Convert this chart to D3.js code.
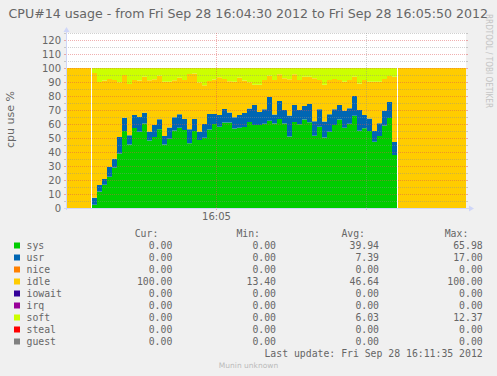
<!DOCTYPE html>
<html>
<head>
<meta charset="utf-8">
<script src="https://cdn.jsdelivr.net/npm/d3@7"></script>
<style>
  body { margin: 0; background: #F0F0F0; }
  svg { display: block; }
  text { font-family: "DejaVu Sans", sans-serif; fill: #666; }
  .mono { font-family: "DejaVu Sans Mono", monospace; font-size: 9.8px; }
</style>
</head>
<body>
<svg id="chart" width="497" height="376"></svg>
<script>
// series, in munin draw order
const seriesNames = ["sys", "usr", "nice", "idle", "iowait", "irq", "soft", "steal", "guest"];
const seriesColors = ["#00CC00", "#0066B3", "#FF8000", "#FFCC00", "#330099", "#990099", "#CCFF00", "#FF0000", "#808080"];

// one sample per second, starting 16:04:35.2 (idle = 100 - sys - usr - soft)
const sysValues = [2.3, 11.7, 16.6, 22.4, 28.9, 38.9, 55.0, 45.3, 57.2, 54.5,
  60.3, 48.3, 50.7, 56.3, 45.3, 49.4, 55.4, 57.4, 55.7, 46.2,
  55.0, 48.6, 50.2, 56.0, 60.0, 58.0, 61.0, 61.0, 56.8, 57.4,
  57.8, 61.5, 59.3, 59.3, 60.2, 62.3, 60.3, 63.5, 60.3, 51.0,
  61.5, 59.8, 63.3, 61.3, 51.6, 58.0, 50.4, 54.5, 59.2, 63.3,
  57.4, 60.2, 65.98, 55.1, 56.9, 55.0, 47.4, 51.5, 59.0, 64.3, 37.9];
const usrValues = [5.1, 4.7, 4.1, 6.9, 6.2, 11.9, 9.5, 6.7, 9.2, 10.5,
  7.7, 6.2, 8.6, 7.1, 6.1, 8.1, 9.4, 9.6, 7.8, 10.0,
  8.5, 5.9, 9.8, 11.1, 7.1, 8.4, 9.7, 7.3, 8.1, 9.0,
  10.0, 9.5, 14.3, 9.2, 10.3, 17.0, 6.5, 13.0, 9.7, 15.0,
  12.1, 10.2, 9.6, 12.9, 10.4, 12.5, 11.4, 12.5, 11.3, 10.3,
  12.0, 11.0, 14.0, 14.9, 9.5, 9.0, 7.6, 9.0, 10.4, 11.5, 9.2];
const softValues = [3.6, 10.0, 9.0, 7.9, 8.6, 10.2, 5.0, 11.4, 8.6, 9.0,
  6.2, 8.8, 8.0, 5.6, 9.9, 9.8, 8.8, 7.0, 8.6, 4.3,
  4.0, 10.3, 12.37, 9.3, 8.2, 6.6, 7.8, 9.5, 9.8, 6.9,
  9.0, 10.2, 12.0, 12.0, 8.6, 5.5, 8.6, 4.5, 7.4, 8.1,
  4.5, 8.6, 6.2, 6.2, 7.4, 8.6, 12.0, 8.6, 7.9, 8.6,
  9.8, 8.6, 6.2, 11.0, 8.6, 9.8, 9.8, 9.8, 7.9, 5.7, 6.2];

// legend table
const curText = ["0.00", "0.00", "0.00", "100.00", "0.00", "0.00", "0.00", "0.00", "0.00"];
const minText = ["0.00", "0.00", "0.00", "13.40", "0.00", "0.00", "0.00", "0.00", "0.00"];
const avgText = ["39.94", "7.39", "0.00", "46.64", "0.00", "0.00", "6.03", "0.00", "0.00"];
const maxText = ["65.98", "17.00", "0.00", "100.00", "0.00", "0.00", "12.37", "0.00", "0.00"];
const columnHeads = ["Cur:", "Min:", "Avg:", "Max:"];

const startTime = new Date(2012, 8, 28, 16, 4, 30);
const endTime = new Date(2012, 8, 28, 16, 5, 50);
const leftEnd = new Date(2012, 8, 28, 16, 4, 35);
const dataStart = new Date(2012, 8, 28, 16, 4, 35, 200);
const rightStart = new Date(2012, 8, 28, 16, 5, 36, 400);
const stepMs = 1000;

const titleText = "CPU#14 usage - from Fri Sep 28 16:04:30 2012 to Fri Sep 28 16:05:50 2012";
const lastUpdate = "Last update: Fri Sep 28 16:11:35 2012";

const svg = d3.select("#chart");

// scales
const x = d3.scaleTime().domain([startTime, endTime]).range([66, 466]);
const y = d3.scaleLinear().domain([0, 125]).range([208, 33]);

// canvas
svg.append("rect")
  .attr("x", x.range()[0]).attr("y", y.range()[1])
  .attr("width", x.range()[1] - x.range()[0])
  .attr("height", y.range()[0] - y.range()[1])
  .attr("fill", "#FFFFFF");

//build rows for each block
function makeRow(t, vals) {
  let r = { t: t };
  seriesNames.forEach(function(k) { r[k] = vals[k] || 0; });
  return r;
}

let dataRows = sysValues.map(function(s, i) {
  return makeRow(new Date(+dataStart + i * stepMs), {
    sys: s, usr: usrValues[i], soft: softValues[i],
    idle: 100 - s - usrValues[i] - softValues[i]
  });
});
// close the last step
let last = dataRows[dataRows.length - 1];
dataRows.push(Object.assign({}, last, { t: new Date(+dataStart + sysValues.length * stepMs) }));

let blocks = [
  [makeRow(startTime, { idle: 100 }), makeRow(leftEnd, { idle: 100 })],
  dataRows,
  [makeRow(rightStart, { idle: 100 }), makeRow(endTime, { idle: 100 })]
];

let stack = d3.stack().keys(seriesNames);
let area = d3.area()
  .x(function(d) { return x(d.data.t); })
  .y0(function(d) { return y(d[0]); })
  .y1(function(d) { return y(d[1]); })
  .curve(d3.curveStepAfter);

let areaG = svg.append("g");
blocks.forEach(function(rows) {
  stack(rows).forEach(function(layer, i) {
    areaG.append("path")
      .attr("d", area(layer))
      .attr("fill", seriesColors[i]);
  });
});

// grid (drawn over the areas like rrdtool)
const minorColor = "rgba(143,143,143,0.42)";
const majorColor = "rgba(222,79,79,0.45)";
let gridG = svg.append("g").attr("stroke-width", 1);

d3.range(5, 126, 5).forEach(function(v) {
  let yy = y(v) + 0.5;
  let col = v % 10 === 0 ? majorColor : minorColor;
  gridG.append("line")
    .attr("x1", x.range()[0]).attr("x2", x.range()[1])
    .attr("y1", yy).attr("y2", yy)
    .attr("stroke", col).attr("stroke-dasharray", "1,1");
  gridG.append("line")
    .attr("x1", x.range()[0] - 2).attr("x2", x.range()[0])
    .attr("y1", yy).attr("y2", yy).attr("stroke", col);
  gridG.append("line")
    .attr("x1", x.range()[1]).attr("x2", x.range()[1] + 2)
    .attr("y1", yy).attr("y2", yy).attr("stroke", col);
});

let vTimes = d3.timeSecond.every(30).range(new Date(+startTime + 1), endTime);
vTimes.forEach(function(t) {
  let xx = x(t) + 0.5;
  let col = t.getSeconds() === 0 ? majorColor : minorColor;
  gridG.append("line")
    .attr("x1", xx).attr("x2", xx)
    .attr("y1", y.range()[1]).attr("y2", y.range()[0])
    .attr("stroke", col).attr("stroke-dasharray", "1,1");
  gridG.append("line")
    .attr("x1", xx).attr("x2", xx)
    .attr("y1", y.range()[0]).attr("y2", y.range()[0] + 2)
    .attr("stroke", col);
});

// axes + arrows
const axisColor = "#CFD6F8";
svg.append("line")
  .attr("x1", x.range()[0] - 2).attr("x2", x.range()[1] + 4)
  .attr("y1", y(0) + 0.5).attr("y2", y(0) + 0.5)
  .attr("stroke", axisColor);
svg.append("line")
  .attr("x1", x.range()[0] + 0.5).attr("x2", x.range()[0] + 0.5)
  .attr("y1", y(0) + 2).attr("y2", y.range()[1] - 4)
  .attr("stroke", axisColor);
let x1 = x.range()[1], y0 = y(0) + 0.5, xo = x.range()[0] + 0.5, yt = y.range()[1];
svg.append("path")
  .attr("d", "M" + (x1 + 3) + "," + (y0 - 3) + "L" + (x1 + 8) + "," + y0 + "L" + (x1 + 3) + "," + (y0 + 3) + "Z")
  .attr("fill", axisColor);
svg.append("path")
  .attr("d", "M" + (xo - 3) + "," + (yt - 1) + "L" + xo + "," + (yt - 6) + "L" + (xo + 3) + "," + (yt - 1) + "Z")
  .attr("fill", axisColor);

// tick labels
svg.append("g").selectAll("text")
  .data(d3.range(0, 121, 10))
  .enter().append("text")
    .attr("x", 61)
    .attr("y", function(d) { return y(d) + 0.5; })
    .attr("dy", "0.36em")
    .attr("text-anchor", "end")
    .style("font-size", "10px")
    .text(function(d) { return d; });

let fmt = d3.timeFormat("%H:%M");
svg.append("g").selectAll("text")
  .data(vTimes.filter(function(t) { return t.getSeconds() === 0; }))
  .enter().append("text")
    .attr("x", function(d) { return x(d) + 0.5; })
    .attr("y", 220)
    .attr("text-anchor", "middle")
    .style("font-size", "10px")
    .text(fmt);

// title, y label, watermark
svg.append("text")
  .attr("x", 248.3).attr("y", 18.3)
  .attr("text-anchor", "middle")
  .style("font-size", "12.6px")
  .text(titleText);

svg.append("text")
  .attr("transform", "translate(14,119.5) rotate(-90)")
  .attr("text-anchor", "middle")
  .style("font-size", "11px")
  .text("cpu use %");

svg.append("text")
  .attr("transform", "translate(485.5,14) rotate(90)")
  .attr("textLength", 94)
  .attr("lengthAdjust", "spacingAndGlyphs")
  .style("font-size", "9.5px")
  .style("fill", "#C4C4C4")
  .text("RRDTOOL / TOBI OETIKER");

// legend
const valueRight = [172.3, 276, 379, 482.7];
const headRight = [158.3, 260, 365, 468.3];
let legend = svg.append("g");

legend.selectAll(".head")
  .data(columnHeads)
  .enter().append("text")
    .attr("class", "mono head")
    .attr("x", function(d, i) { return headRight[i]; })
    .attr("y", 237)
    .attr("text-anchor", "end")
    .text(function(d) { return d; });

let cols = [curText, minText, avgText, maxText];
let rowsG = legend.selectAll(".row")
  .data(seriesNames)
  .enter().append("g")
    .attr("class", "row")
    .attr("transform", function(d, i) { return "translate(0," + (249 + i * 12) + ")"; });

rowsG.append("rect")
  .attr("x", 14).attr("y", -6.5)
  .attr("width", 6).attr("height", 6)
  .attr("fill", function(d, i) { return seriesColors[i]; });

rowsG.append("text")
  .attr("class", "mono")
  .attr("x", 26.5)
  .text(function(d) { return d; });

cols.forEach(function(col, c) {
  rowsG.append("text")
    .attr("class", "mono")
    .attr("x", valueRight[c])
    .attr("text-anchor", "end")
    .text(function(d, i) { return col[i]; });
});

legend.append("text")
  .attr("class", "mono")
  .attr("x", 482.7).attr("y", 357)
  .attr("text-anchor", "end")
  .text(lastUpdate);

svg.append("text")
  .attr("x", 248.5).attr("y", 368)
  .attr("text-anchor", "middle")
  .style("font-size", "7.5px")
  .style("fill", "#BBBBBB")
  .text("Munin unknown");
</script>
</body>
</html>
